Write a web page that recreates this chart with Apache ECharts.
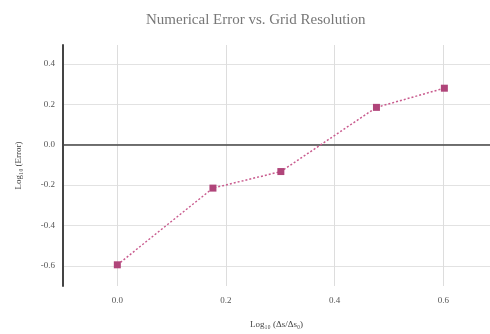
<!DOCTYPE html>
<html>
<head>
<meta charset="utf-8">
<script src="https://cdn.jsdelivr.net/npm/echarts@6/dist/echarts.min.js"></script>
<style>html,body{margin:0;padding:0;background:#fff}#c{width:490px;height:334px}</style>
</head>
<body>
<div id="c"></div>
<script>
const titleText = 'Numerical Error vs. Grid Resolution';
const xName = 'Log\u2081\u2080 (\u0394s/\u0394s\u2080)';
const yName = 'Log\u2081\u2080 (Error)';
const xValues = [0, 0.176, 0.301, 0.477, 0.602];
const yValues = [-0.595, -0.215, -0.133, 0.185, 0.28];
const xTicks = [0, 0.2, 0.4, 0.6];
const yTicks = [-0.6, -0.4, -0.2, 0, 0.2, 0.4];

const chart = echarts.init(document.getElementById('c'), null, {renderer: 'canvas'});
const serif = 'Liberation Serif, DejaVu Serif, serif';
chart.setOption({
  animation: false,
  title: {
    text: titleText,
    left: 141, top: 8,
    textStyle: {fontFamily: serif, fontSize: 15, fontWeight: 'normal', color: '#777'}
  },
  grid: {left: 63, right: 0, top: 45, bottom: 47, containLabel: false},
  xAxis: {
    type: 'value', min: -0.1, max: 0.686,
    name: xName, nameLocation: 'middle', nameGap: 34,
    nameTextStyle: {fontFamily: serif, fontSize: 9, color: '#444'},
    axisLine: {show: false},
    axisTick: {show: false, customValues: xTicks},
    axisLabel: {customValues: xTicks, fontFamily: serif, fontSize: 9, color: '#555', margin: 10,
      formatter: v => v.toFixed(1)},
    splitLine: {show: true, lineStyle: {color: '#ddd', width: 1}}
  },
  yAxis: {
    type: 'value', min: -0.7, max: 0.494,
    name: yName, nameLocation: 'middle', nameGap: 40,
    nameTextStyle: {fontFamily: serif, fontSize: 9, color: '#444'},
    axisLine: {show: true, onZero: false, lineStyle: {color: '#444', width: 2}},
    axisTick: {show: false, customValues: yTicks},
    axisLabel: {customValues: yTicks, fontFamily: serif, fontSize: 9, color: '#555', margin: 8,
      formatter: v => v.toFixed(1)},
    splitLine: {show: true, lineStyle: {color: '#e2e2e2', width: 1}}
  },
  series: [{
    type: 'line',
    data: xValues.map((x, i) => [x, yValues[i]]),
    symbol: 'rect', symbolSize: 7,
    itemStyle: {color: '#b0457a'},
    lineStyle: {color: '#c95b8e', width: 1.5, type: [2, 2]},
    markLine: {
      silent: true, symbol: 'none', label: {show: false},
      lineStyle: {color: '#444', width: 1.5, type: 'solid'},
      data: [{yAxis: 0}]
    },
    z: 5
  }]
});
</script>
</body>
</html>
